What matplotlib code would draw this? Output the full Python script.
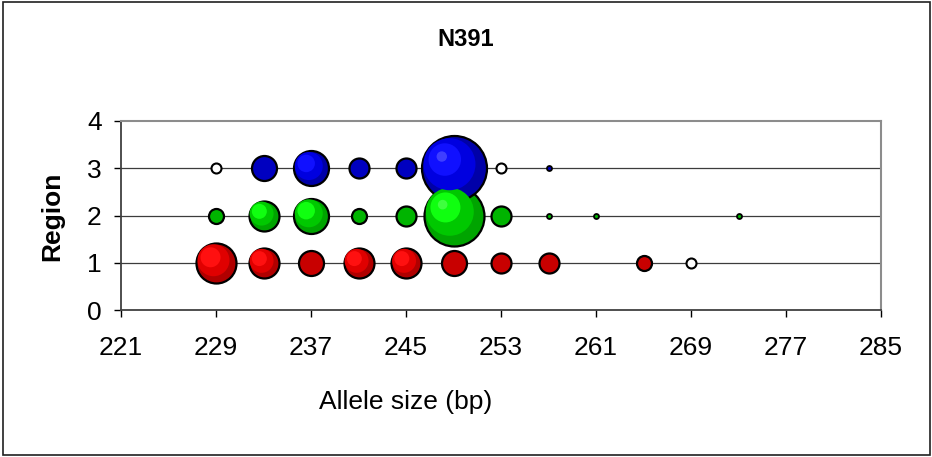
import matplotlib
matplotlib.use("Agg")
import matplotlib.pyplot as plt
from matplotlib.patches import Rectangle
from matplotlib.transforms import offset_copy

plt.rcParams["font.family"] = ["Liberation Sans", "DejaVu Sans"]

# bubble values (negative = hollow bubble, as Excel draws them)
red_size = [229, 233, 237, 241, 245, 249, 253, 257, 265, 269]
red_freq = [8, 6, 5, 6, 6, 5, 4, 4, 3, -2]
green_size = [229, 233, 237, 241, 245, 249, 253, 257, 261, 273]
green_freq = [3, 6, 7, 3, 4, 12, 4, 1, 1, 1]
blue_size = [229, 233, 237, 241, 245, 249, 253, 257]
blue_freq = [-2, 5, 7, 4, 4, 13, -2, 1]

x_ticks = [221, 229, 237, 245, 253, 261, 269, 277, 285]
y_ticks = [0, 1, 2, 3, 4]

# (plain, rim, mid, bright) shades per region
palettes = {
    1: ("#c80000", "#b00000", "#e00000", "#ff1010"),
    2: ("#00b400", "#00a400", "#00c800", "#10ff10"),
    3: ("#0000c0", "#0000a8", "#0000e0", "#1010ff"),
}

DPI = 100
PT = 72 / DPI  # points per pixel


def bubble(ax, fig, x, y, freq, pal):
    """Draw one Excel-style bubble; diameter grows linearly with |freq|."""
    d_px = 5 * abs(freq) + 2
    core = (d_px - 2) * PT
    if freq < 0:
        ax.scatter([x], [y], s=core ** 2, facecolor="white", edgecolor="black",
                   linewidth=1.5, zorder=3, clip_on=False)
        return
    plain, rim, mid, bright = pal
    shaded = d_px >= 31
    lw = 1.6 if d_px > 10 else 1.3
    ax.scatter([x], [y], s=core ** 2, facecolor=rim if shaded else plain,
               edgecolor="black", linewidth=lw, zorder=3, clip_on=False)
    if not shaded:
        return
    r = d_px / 2
    for frac, off, col in ((0.8, 0.12, mid), (0.5, 0.26, bright)):
        tr = offset_copy(ax.transData, fig=fig, x=-off * r, y=off * r, units="dots")
        ax.scatter([x], [y], s=(frac * core) ** 2, facecolor=col, edgecolor="none",
                   zorder=4, clip_on=False, transform=tr)
    if d_px >= 55:
        tr = offset_copy(ax.transData, fig=fig, x=-0.35 * r, y=0.35 * r, units="dots")
        ax.scatter([x], [y], s=(0.22 * core) ** 2, facecolor=bright, edgecolor="none",
                   alpha=0.9, zorder=5, clip_on=False, transform=tr)
        ax.scatter([x], [y], s=(0.16 * core) ** 2, facecolor="white", edgecolor="none",
                   alpha=0.2, zorder=6, clip_on=False, transform=tr)


fig = plt.figure(figsize=(9.32, 4.57), dpi=DPI)
ax = fig.add_axes([121 / 932, 1 - 310 / 457, 760 / 932, 189 / 457])

ax.set_xlim(221, 285)
ax.set_ylim(0, 4)
ax.set_xticks(x_ticks)
ax.set_yticks(y_ticks)
ax.tick_params(axis="x", direction="out", length=5, width=1, pad=14, labelsize=19)
ax.tick_params(axis="y", direction="out", length=5, width=1, pad=9, labelsize=19)

for yy in (1, 2, 3):
    ax.axhline(yy, color="#3c3c3c", linewidth=0.9, zorder=1)

for side in ("left", "bottom"):
    ax.spines[side].set_color("#404040")
    ax.spines[side].set_linewidth(1.3)
for side in ("top", "right"):
    ax.spines[side].set_color("#8c8c8c")
    ax.spines[side].set_linewidth(1.5)

for sizes, freqs, reg in ((red_size, red_freq, 1),
                          (green_size, green_freq, 2),
                          (blue_size, blue_freq, 3)):
    for x, f in zip(sizes, freqs):
        bubble(ax, fig, x, reg, f, palettes[reg])

fig.text(466 / 932, 1 - 40 / 457, "N391", ha="center", va="center",
         fontsize=17, fontweight="bold")
fig.text(52 / 932, 1 - 216 / 457, "Region", ha="center", va="center",
         rotation=90, fontsize=19, fontweight="bold")
fig.text(406 / 932, 1 - 402 / 457, "Allele size (bp)", ha="center", va="center",
         fontsize=19)

fig.patches.append(Rectangle((3 / 932, 2 / 457), 927 / 932, 453 / 457,
                             transform=fig.transFigure, fill=False,
                             edgecolor="#202020", linewidth=1.2))

fig.savefig("out.png", dpi=DPI)
